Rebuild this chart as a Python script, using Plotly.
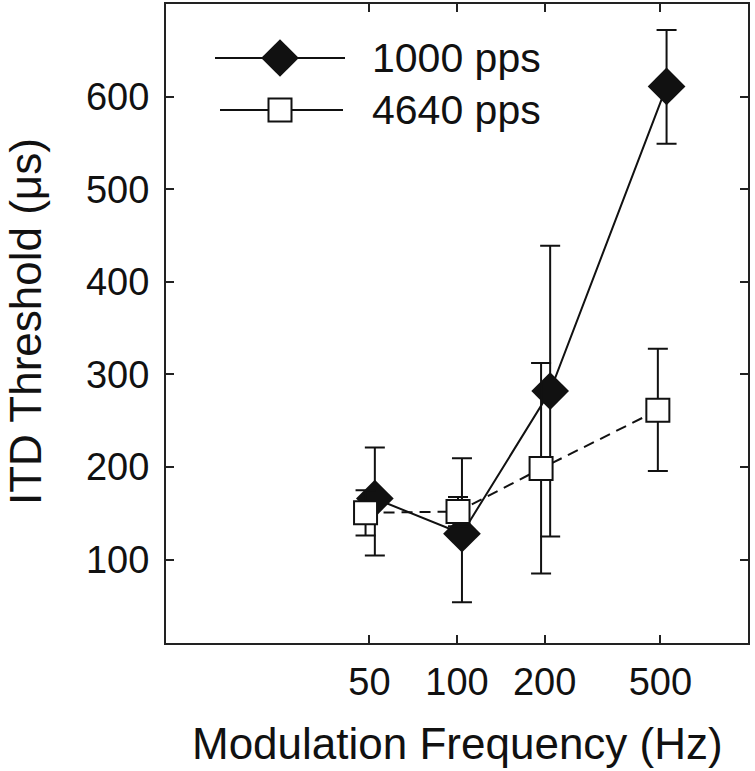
import plotly.graph_objects as go

# ---------------- data ----------------
freq_ticks = [50, 100, 200, 500]
tick_text = ["50", "100", "200", "500"]
y_ticks = [100, 200, 300, 400, 500, 600]

series_names = ["1000 pps", "4640 pps"]

# 1000 pps (filled diamonds, plotted slightly right of the nominal frequency)
x_1000 = [52.2, 104, 209, 525]
y_1000 = [166, 128, 282, 611]
hi_1000 = [221, 209.5, 439, 672]
lo_1000 = [104.6, 54, 125, 549]

# 4640 pps (open squares, plotted slightly left of the nominal frequency)
x_4640 = [48.5, 100.8, 194.5, 490]
y_4640 = [150.6, 152, 198.4, 261.4]
hi_4640 = [175, 167.7, 312.3, 327.7]
lo_4640 = [126.2, 136, 85, 195.8]

# ---------------- styling ----------------
FONT = "Liberation Sans, Arial, Helvetica, sans-serif"
INK = "#111111"
AXC = "#222222"

W, H = 755, 771
ML, MR, MT, MB = 166, 7, 4, 128
PW, PH = W - ML - MR, H - MT - MB


def fx(px):
    return (px - ML) / PW


def fy(py):
    return 1 - (py - MT) / PH


fig = go.Figure()

fig.add_trace(go.Scatter(
    x=x_1000, y=y_1000, mode="lines+markers", name=series_names[0],
    showlegend=False,
    line=dict(color=INK, width=2),
    marker=dict(symbol="diamond", size=29, color=INK, line=dict(width=0)),
    error_y=dict(type="data", symmetric=False,
                 array=[h - v for h, v in zip(hi_1000, y_1000)],
                 arrayminus=[v - l for l, v in zip(lo_1000, y_1000)],
                 color=INK, thickness=2, width=10),
))

fig.add_trace(go.Scatter(
    x=x_4640, y=y_4640, mode="lines+markers", name=series_names[1],
    showlegend=False,
    line=dict(color=INK, width=2, dash="11px,7px"),
    marker=dict(symbol="square", size=23, color="white",
                line=dict(color=INK, width=2)),
    error_y=dict(type="data", symmetric=False,
                 array=[h - v for h, v in zip(hi_4640, y_4640)],
                 arrayminus=[v - l for l, v in zip(lo_4640, y_4640)],
                 color=INK, thickness=2, width=10),
))

# ---------------- hand-drawn legend (long line samples, big markers) ----------------
leg_rows_y = [58, 110]
leg_line_x = [(215, 345), (220, 343)]
leg_mark_x = 280
leg_text_x = 370
leg_markers = [
    dict(symbol="diamond", size=29, color=INK, line=dict(width=0)),
    dict(symbol="square", size=23, color="white", line=dict(color=INK, width=2)),
]
for i, name in enumerate(series_names):
    ry = fy(leg_rows_y[i])
    x0, x1 = leg_line_x[i]
    fig.add_trace(go.Scatter(
        x=[fx(x0), fx(x1)], y=[ry, ry], mode="lines", xaxis="x2", yaxis="y2",
        line=dict(color=INK, width=2), showlegend=False, hoverinfo="skip"))
    fig.add_trace(go.Scatter(
        x=[fx(leg_mark_x)], y=[ry], mode="markers", xaxis="x2", yaxis="y2",
        marker=leg_markers[i], showlegend=False, hoverinfo="skip"))
    fig.add_annotation(
        x=fx(leg_text_x), y=fy(leg_rows_y[i]), xref="paper", yref="paper",
        text=name, showarrow=False, xanchor="left", yanchor="middle",
        font=dict(family=FONT, size=41, color=INK))

# axis titles
fig.add_annotation(
    x=0.5, y=fy(743), xref="paper", yref="paper",
    text="Modulation Frequency (Hz)", showarrow=False,
    xanchor="center", yanchor="middle",
    font=dict(family=FONT, size=44, color=INK))
fig.add_annotation(
    x=fx(25), y=fy(322), xref="paper", yref="paper",
    text="ITD Threshold (μs)", showarrow=False, textangle=-90,
    xanchor="center", yanchor="middle",
    font=dict(family=FONT, size=44, color=INK))

axis_common = dict(
    showline=True, linewidth=2, linecolor=AXC, mirror="ticks",
    ticks="inside", ticklen=8, tickwidth=2, tickcolor=AXC,
    showgrid=False, zeroline=False,
    tickfont=dict(family=FONT, size=38, color=INK),
)

fig.update_layout(
    width=W, height=H,
    margin=dict(l=ML, r=MR, t=MT, b=MB, pad=0),
    paper_bgcolor="white", plot_bgcolor="white",
    showlegend=False,
    font=dict(family=FONT, color=INK),
    xaxis=dict(type="log", range=[1, 3], tickvals=freq_ticks, ticktext=tick_text,
               ticklabelstandoff=4, automargin=False, **axis_common),
    yaxis=dict(range=[10, 700], tickvals=y_ticks, ticklabelstandoff=7,
               automargin=False, **axis_common),
    xaxis2=dict(overlaying="x", range=[0, 1], visible=False, anchor="y2"),
    yaxis2=dict(overlaying="y", range=[0, 1], visible=False, anchor="x2"),
)

fig.write_html("out.html", config={"displayModeBar": False},
               post_script="document.body.style.margin='0px';")
